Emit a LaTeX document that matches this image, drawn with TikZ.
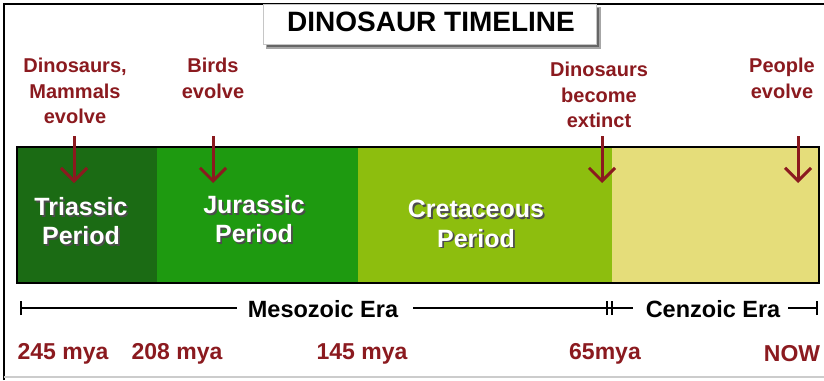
\documentclass[tikz,border=0pt]{standalone}
\usepackage{fontspec}
\setmainfont{Liberation Sans}
\usetikzlibrary{arrows.meta}
\definecolor{evred}{HTML}{8B1A1F}
\definecolor{triC}{HTML}{1B6B14}
\definecolor{jurC}{HTML}{1E9A10}
\definecolor{creC}{HTML}{8DBE0E}
\definecolor{cenC}{HTML}{E5DD7A}
\tikzset{
  evlabel/.style={font=\bfseries\fontsize{20}{25.5}\selectfont, text=evred, align=center, inner sep=0pt, anchor=north},
  evarrow/.style={draw=evred, line width=3pt, -{Straight Barb[length=13pt,width=26pt]}},
  perlabel/.style={font=\bfseries\fontsize{25}{29.5}\selectfont, text=white, align=center, inner sep=0pt, anchor=north},
  eralabel/.style={font=\bfseries\fontsize{23.5}{26}\selectfont, text=black, inner sep=0pt},
  datelabel/.style={font=\bfseries\fontsize{23}{26}\selectfont, text=evred, inner sep=0pt},
  eraline/.style={draw=black, line width=1.4pt},
}
\newcommand{\shline}[1]{\makebox[0pt][l]{\hspace{1.8pt}\raisebox{-1.8pt}{\textcolor{black!70}{#1}}}#1}
\begin{document}
\begin{tikzpicture}[x=1pt,y=-1pt]
\useasboundingbox (0,0) rectangle (824,380);
\fill[white] (0,0) rectangle (824,380);
% frame
\draw[black, line width=1.6pt] (4,380) -- (4,4) -- (824,4);
\draw[gray!40, line width=1.2pt] (4,377) -- (824,377);
% title box
\fill[black!35] (266,7) rectangle (601,49);
\fill[black!60] (267,8) rectangle (599,47);
\filldraw[fill=white, draw=gray!45, line width=0.8pt] (263,4) rectangle (596,44);
\node[font=\bfseries\fontsize{28}{30}\selectfont, inner sep=0pt] (title) at (431,22) {DINOSAUR TIMELINE};
% bar
\fill[triC] (17,147) rectangle (157,283);
\fill[jurC] (157,147) rectangle (358,283);
\fill[creC] (358,147) rectangle (612,283);
\fill[cenC] (612,147) rectangle (819,283);
\draw[black, line width=2pt] (17,147) rectangle (819,283);
% period labels
\node[perlabel] (tri) at (81,197) {\shline{Triassic}\\\shline{Period}};
\node[perlabel] (jur) at (254,195) {\shline{Jurassic}\\\shline{Period}};
\node[perlabel] (cre) at (476,200) {\shline{Cretaceous}\\\shline{Period}};
% event labels
\node[evlabel] (e1) at (75,58) {Dinosaurs,\\Mammals\\evolve};
\node[evlabel] (e2) at (213,58) {Birds\\evolve};
\node[evlabel] (e3) at (599,62) {Dinosaurs\\become\\extinct};
\node[evlabel] (e4) at (782,58) {People\\evolve};
% arrows
\coordinate (a1s) at (74,136); \coordinate (a1e) at (74,183);
\coordinate (a2s) at (213,136); \coordinate (a2e) at (213,183);
\coordinate (a3s) at (602,136); \coordinate (a3e) at (602,183);
\coordinate (a4s) at (798,136); \coordinate (a4e) at (798,183);
\draw[evarrow] (a1s) -- (a1e);
\draw[evarrow] (a2s) -- (a2e);
\draw[evarrow] (a3s) -- (a3e);
\draw[evarrow] (a4s) -- (a4e);
% era line
\node[eralabel] (meso) at (323,309) {Mesozoic Era};
\node[eralabel] (ceno) at (713,309) {Cenzoic Era};
\coordinate (l0) at (21,308);
\coordinate (l1) at (237,308);
\coordinate (l2) at (413,308);
\coordinate (l3) at (607,308);
\coordinate (l4) at (612,308);
\coordinate (l5) at (633,308);
\coordinate (l6) at (788,308);
\coordinate (l7) at (817,308);
\draw[eraline] (l0) -- (l1);
\draw[eraline] (l2) -- (l5);
\draw[eraline] (l6) -- (l7);
\draw[eraline] ([yshift=-7pt]l0) -- ([yshift=7pt]l0);
\draw[eraline] ([yshift=-7pt]l3) -- ([yshift=7pt]l3);
\draw[eraline] ([yshift=-7pt]l4) -- ([yshift=7pt]l4);
\draw[eraline] ([yshift=-7pt]l7) -- ([yshift=7pt]l7);
% dates
\node[datelabel] (d1) at (63,354) {245 mya};
\node[datelabel] (d2) at (177,354) {208 mya};
\node[datelabel] (d3) at (362,354) {145 mya};
\node[datelabel] (d4) at (605,354) {65mya};
\node[datelabel] (d5) at (792,354) {NOW};
\end{tikzpicture}
\end{document}
